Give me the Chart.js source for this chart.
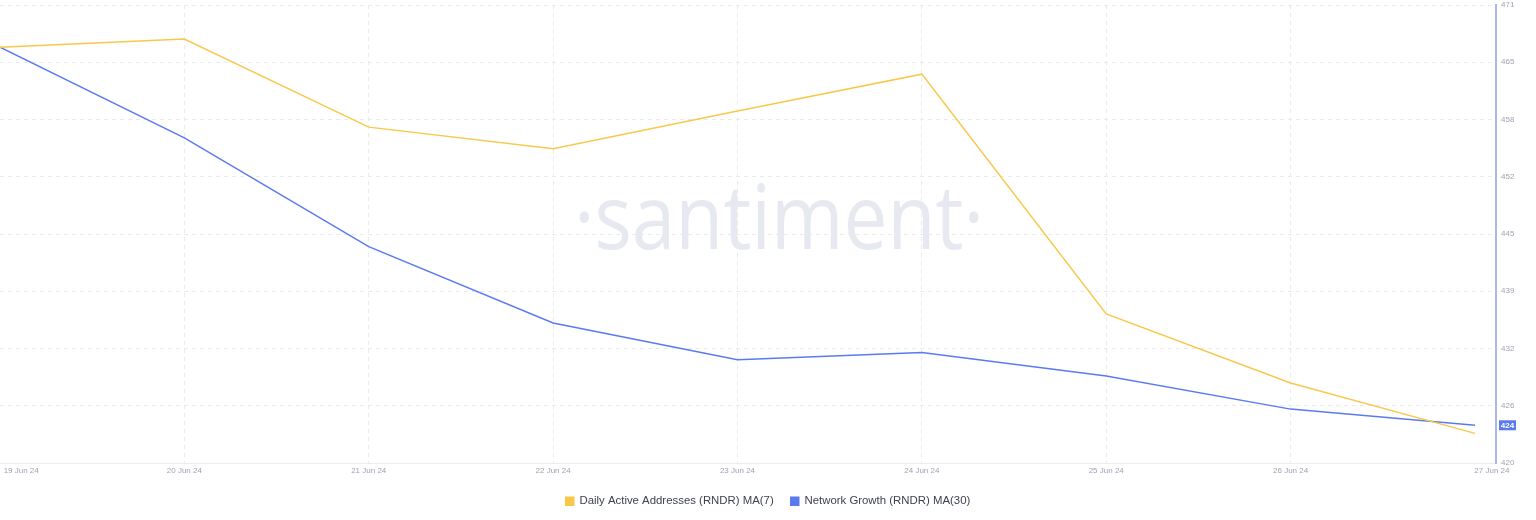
<!DOCTYPE html>
<html>
<head>
<meta charset="utf-8">
<script src="https://cdn.jsdelivr.net/npm/chart.js@4"></script>
<style>
  html, body { margin: 0; padding: 0; background: #ffffff; }
  #wrap { position: relative; width: 1536px; height: 520px; }
  #wm {
    position: absolute; left: 779px; top: 214px;
    transform: translate(-50%, -50%) scaleX(0.87);
    font-family: "Open Sans", sans-serif; font-size: 90px; font-weight: 400;
    color: #e7e9f1; white-space: nowrap; line-height: 1; z-index: 0;
    user-select: none;
  }
  canvas { position: relative; z-index: 1; }
</style>
</head>
<body>
<div id="wrap">
  <div id="wm">·santiment·</div>
  <canvas id="c" width="1536" height="520"></canvas>
</div>
<script>
const dates = ['19 Jun 24', '20 Jun 24', '21 Jun 24', '22 Jun 24', '23 Jun 24', '24 Jun 24', '25 Jun 24', '26 Jun 24', '27 Jun 24'];
const dailyActiveMA7 = [466.3, 467.2, 457.4, 455.0, 459.2, 463.3, 436.6, 428.9, 423.3];
const networkGrowthMA30 = [466.3, 456.2, 444.1, 435.6, 431.5, 432.3, 429.7, 426.0, 424.2];
const yTickLabels = ['420', '426', '432', '439', '445', '452', '458', '465', '471'];
const seriesNames = ['Daily Active Addresses (RNDR) MA(7)', 'Network Growth (RNDR) MA(30)'];

const Y_MIN = 420, Y_MAX = 471;
const LAST = dates.length - 1;
const X_MAX = LAST + 0.114;

const yellow = '#f8c84b';
const blue = '#5a7bef';
const tickColor = '#9ea3b1';
const gridColor = '#e9eaee';

const toXY = arr => arr.map((v, i) => ({ x: i, y: v }));

const badgePlugin = {
  id: 'lastValueBadge',
  afterDraw(chart) {
    const y = chart.scales.y;
    const v = networkGrowthMA30[networkGrowthMA30.length - 1];
    const py = y.getPixelForValue(v);
    const ctx = chart.ctx;
    ctx.save();
    ctx.fillStyle = blue;
    ctx.fillRect(y.left + 3, py - 5, 17, 10);
    ctx.fillStyle = '#ffffff';
    ctx.font = 'bold 8px "Liberation Sans", Arial, sans-serif';
    ctx.textAlign = 'center';
    ctx.textBaseline = 'middle';
    ctx.fillText(String(Math.round(v)), y.left + 11.5, py + 0.5);
    ctx.restore();
  }
};

new Chart(document.getElementById('c'), {
  type: 'line',
  data: {
    datasets: [
      { label: seriesNames[0], data: toXY(dailyActiveMA7), borderColor: yellow, backgroundColor: yellow,
        borderWidth: 1.5, pointRadius: 0, tension: 0, fill: false },
      { label: seriesNames[1], data: toXY(networkGrowthMA30), borderColor: blue, backgroundColor: blue,
        borderWidth: 1.5, pointRadius: 0, tension: 0, fill: false }
    ]
  },
  options: {
    responsive: false,
    animation: false,
    layout: { padding: { top: 0, bottom: 3, left: 0, right: 0 } },
    plugins: {
      tooltip: { enabled: false },
      legend: {
        position: 'bottom',
        labels: {
          boxWidth: 8, boxHeight: 8, padding: 17, color: '#3d4250',
          font: { family: '"Liberation Sans", Arial, sans-serif', size: 11.4 }
        }
      }
    },
    scales: {
      x: {
        type: 'linear', min: 0, max: X_MAX,
        afterBuildTicks(scale) {
          scale.ticks = dates.map((d, i) => ({ value: i === 0 ? 0.115 : (i === LAST ? LAST + 0.092 : i) }));
        },
        ticks: {
          autoSkip: false, maxRotation: 0, padding: 3, color: tickColor,
          font: { family: '"Liberation Sans", Arial, sans-serif', size: 8 },
          callback: (v, i) => dates[i]
        },
        grid: {
          drawTicks: false, lineWidth: 1,
          color: ctx => (ctx.index > 0 && ctx.index < LAST) ? gridColor : 'rgba(0,0,0,0)'
        },
        border: { display: true, color: '#ececf0', width: 1, dash: [4, 4] }
      },
      y: {
        type: 'linear', position: 'right', min: Y_MIN, max: Y_MAX,
        afterBuildTicks(scale) {
          scale.ticks = yTickLabels.map((t, i) => ({ value: Y_MIN + i * (Y_MAX - Y_MIN) / (yTickLabels.length - 1) }));
        },
        afterFit(scale) { scale.width = 40; scale.paddingTop = 5; scale.paddingBottom = 0; },
        ticks: {
          padding: 5, color: tickColor,
          font: { family: '"Liberation Sans", Arial, sans-serif', size: 8 },
          callback: (v, i) => yTickLabels[i]
        },
        grid: { drawTicks: false, color: gridColor, lineWidth: 1 },
        border: { display: true, color: '#aab6ee', width: 2, dash: [4, 4] }
      }
    }
  },
  plugins: [badgePlugin]
});
</script>
</body>
</html>
